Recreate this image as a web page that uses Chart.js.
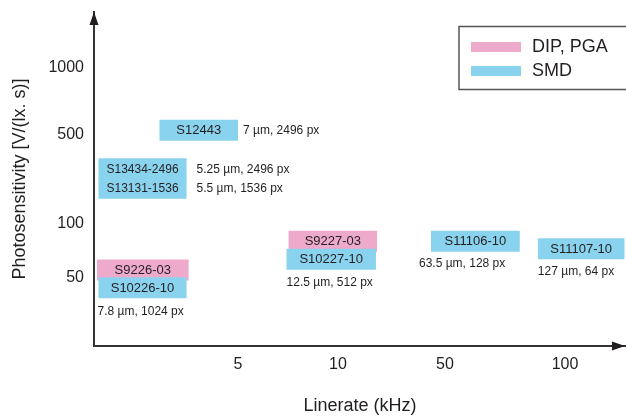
<!DOCTYPE html>
<html><head><meta charset="utf-8">
<script src="https://cdn.jsdelivr.net/npm/chart.js@4/dist/chart.umd.min.js"></script>
<style>html,body{margin:0;padding:0;background:#fff;}canvas{display:block;}</style>
</head><body>
<canvas id="c" width="626" height="417"></canvas>
<script>
// ---------- data ----------
const xTicks = [5, 10, 50, 100];          // Linerate (kHz)
const yTicks = [50, 100, 500, 1000];      // Photosensitivity

const dipNames = ['S9226-03', 'S9227-03'];
const dipRateFrom = [1.88, 7.1];
const dipRateTo = [3.55, 18.0];
const dipSensitivity = [54, 78];
const dipNotes = ['', ''];

const smdNames = ['S12443', 'S13434-2496', 'S13131-1536', 'S10226-10', 'S10227-10', 'S11106-10', 'S11107-10'];
const smdRateFrom = [2.9, 1.9, 1.9, 1.9, 7.0, 40.5, 85.5];
const smdRateTo = [5.0, 3.5, 3.5, 3.5, 17.7, 77, 141];
const smdSensitivity = [515, 262, 184, 43, 62, 78, 71];
const smdNotes = ['7 µm, 2496 px', '5.25 µm, 2496 px', '5.5 µm, 1536 px', '7.8 µm, 1024 px', '12.5 µm, 512 px', '63.5 µm, 128 px', '127 µm, 64 px'];

// ---------- layout / style ----------
const FAMILY = "'Liberation Sans', Arial, Helvetica, sans-serif";
const INK = '#231f20';
const PINK = '#EDAACB';
const BLUE = '#8AD3EE';
const tickFrac = { x: [0.2707, 0.4586, 0.6598, 0.8853], y: [0.2096, 0.3713, 0.6377, 0.8383] };
const tickVals = { x: xTicks, y: yTicks };
const smallNames = ['S13434-2496', 'S13131-1536'];
const notePlace = {
  'S12443': { side: 'right', gap: 5 },
  'S13434-2496': { side: 'right', gap: 10 },
  'S13131-1536': { side: 'right', gap: 10 },
  'S10226-10': { side: 'below', dx: -1, gap: 13 },
  'S10227-10': { side: 'below', dx: 0, gap: 13 },
  'S11106-10': { side: 'below', dx: -12, gap: 12 },
  'S11107-10': { side: 'below', dx: 0, gap: 13 }
};

// schematic axis: log interpolation between labelled ticks
class AnchoredLogScale extends Chart.LinearScale {
  static id = 'anchoredLog';
  static defaults = {};
  _anchors() { return tickVals[this.axis].map((v, i) => [Math.log10(v), tickFrac[this.axis][i]]); }
  _toFrac(v) {
    const a = this._anchors(); const lv = Math.log10(v);
    let i = 0;
    while (i < a.length - 2 && lv > a[i + 1][0]) i++;
    return a[i][1] + (lv - a[i][0]) * (a[i + 1][1] - a[i][1]) / (a[i + 1][0] - a[i][0]);
  }
  _fromFrac(f) {
    const a = this._anchors();
    let i = 0;
    while (i < a.length - 2 && f > a[i + 1][1]) i++;
    return Math.pow(10, a[i][0] + (f - a[i][1]) * (a[i + 1][0] - a[i][0]) / (a[i + 1][1] - a[i][1]));
  }
  getPixelForValue(v) {
    if (!(v > 0)) return NaN;
    return this.getPixelForDecimal(this._toFrac(v));
  }
  getValueForPixel(p) { return this._fromFrac(this.getDecimalForPixel(p)); }
  buildTicks() { return tickVals[this.axis].map(v => ({ value: v })); }
}
Chart.register(AnchoredLogScale);

const toPoints = (from, to, sens) => sens.map((s, i) => ({ y: s, x: [from[i], to[i]] }));

const boxLabels = {
  id: 'boxLabels',
  afterDatasetsDraw(chart) {
    const ctx = chart.ctx;
    chart.data.datasets.forEach((ds, di) => {
      const meta = chart.getDatasetMeta(di);
      meta.data.forEach((bar, i) => {
        const p = bar.getProps(['x', 'base', 'y', 'height'], true);
        const left = Math.min(p.x, p.base), right = Math.max(p.x, p.base);
        const name = ds.names[i];
        ctx.save();
        ctx.fillStyle = INK;
        ctx.textBaseline = 'middle';
        ctx.textAlign = 'center';
        ctx.font = (smallNames.includes(name) ? 12 : 13) + 'px ' + FAMILY;
        ctx.fillText(name, (left + right) / 2, p.y + 0.5);
        const note = ds.notes[i];
        if (note) {
          const pl = notePlace[name];
          ctx.font = '12px ' + FAMILY;
          ctx.textAlign = 'left';
          if (pl.side === 'right') ctx.fillText(note, right + pl.gap, p.y + 0.5);
          else ctx.fillText(note, left + pl.dx, p.y + p.height / 2 + pl.gap);
        }
        ctx.restore();
      });
    });
  }
};

const frameLegend = {
  id: 'frameLegend',
  afterDraw(chart) {
    const ctx = chart.ctx;
    const ca = chart.chartArea;
    ctx.save();
    // arrow heads
    ctx.fillStyle = INK;
    ctx.beginPath();
    ctx.moveTo(ca.left, ca.top); ctx.lineTo(ca.left - 4.5, ca.top + 13); ctx.lineTo(ca.left + 4.5, ca.top + 13); ctx.closePath(); ctx.fill();
    ctx.beginPath();
    ctx.moveTo(ca.right - 1, ca.bottom); ctx.lineTo(ca.right - 14, ca.bottom - 4.5); ctx.lineTo(ca.right - 14, ca.bottom + 4.5); ctx.closePath(); ctx.fill();
    // legend
    ctx.strokeStyle = '#555';
    ctx.lineWidth = 1.5;
    ctx.strokeRect(459, 26.5, 200, 63);
    ctx.font = '18px ' + FAMILY;
    ctx.textBaseline = 'middle';
    ctx.textAlign = 'left';
    chart.data.datasets.forEach((ds, i) => {
      const cy = 47 + i * 24;
      ctx.fillStyle = ds.backgroundColor;
      ctx.fillRect(471, cy - 5, 50, 10);
      ctx.fillStyle = INK;
      ctx.fillText(ds.label, 532, cy);
    });
    ctx.restore();
  }
};

new Chart(document.getElementById('c'), {
  type: 'bar',
  data: {
    datasets: [
      { label: 'DIP, PGA', names: dipNames, notes: dipNotes, data: toPoints(dipRateFrom, dipRateTo, dipSensitivity),
        backgroundColor: PINK, order: 2 },
      { label: 'SMD', names: smdNames, notes: smdNotes, data: toPoints(smdRateFrom, smdRateTo, smdSensitivity),
        backgroundColor: BLUE, order: 1 }
    ]
  },
  options: {
    responsive: false,
    animation: false,
    devicePixelRatio: 1,
    indexAxis: 'y',
    events: [],
    layout: { padding: { top: 12, left: 0, right: 0, bottom: 0 } },
    datasets: { bar: { grouped: false, categoryPercentage: 1, barPercentage: 20, maxBarThickness: 21, borderWidth: 0 } },
    plugins: { legend: { display: false }, tooltip: { enabled: false } },
    scales: {
      x: {
        type: 'anchoredLog', position: 'bottom',
        grid: { display: false, drawTicks: false },
        border: { display: true, color: '#333', width: 2 },
        ticks: { color: INK, font: { family: FAMILY, size: 16 }, padding: 9, autoSkip: false, maxRotation: 0, callback: v => String(v) },
        title: { display: true, text: 'Linerate (kHz)', color: INK, font: { family: FAMILY, size: 18 }, padding: { top: 0, bottom: 0 } },
        afterFit: s => { s.height = 71; s.paddingLeft = 0; s.paddingRight = 0; }
      },
      y: {
        type: 'anchoredLog', position: 'left',
        grid: { display: false, drawTicks: false },
        border: { display: true, color: '#333', width: 2 },
        ticks: { color: INK, font: { family: FAMILY, size: 16 }, padding: 10, labelOffset: 2, autoSkip: false, callback: v => String(v) },
        title: { display: true, text: 'Photosensitivity [V/(lx. s)]', color: INK, font: { family: FAMILY, size: 18 }, padding: { top: 9, bottom: 0 } },
        afterFit: s => { s.width = 94; s.paddingTop = 0; s.paddingBottom = 0; }
      }
    }
  },
  plugins: [boxLabels, frameLegend]
});
</script>
</body></html>
